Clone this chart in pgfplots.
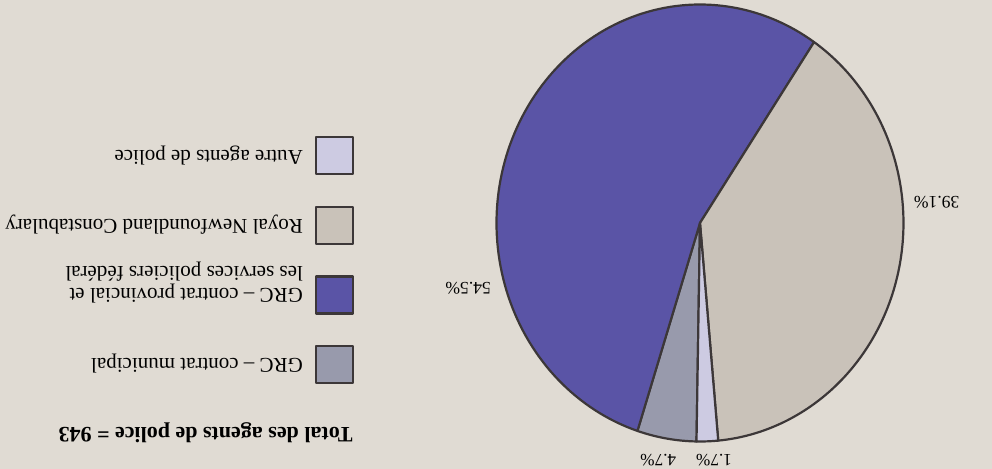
\documentclass[border=0pt]{standalone}
\usepackage{fontspec}
\setmainfont{Liberation Serif}
\usepackage{graphicx}
\usepackage{pgfplots}
\pgfplotsset{compat=1.18}
\definecolor{bg}{RGB}{224,219,211}
\definecolor{cblue}{RGB}{90,84,166}
\definecolor{cbeige}{RGB}{201,194,185}
\definecolor{clav}{RGB}{205,203,226}
\definecolor{cgray}{RGB}{152,154,172}
\definecolor{cline}{RGB}{60,55,56}
\begin{document}
\rotatebox{180}{%
\begin{tikzpicture}
\useasboundingbox (0,0) rectangle (496pt,234.5pt);
\fill[bg] (0,0) rectangle (496pt,234.5pt);
\begin{axis}[
  at={(146pt,111.5pt)}, anchor=center,
  scale only axis, width=203.5pt, height=218.5pt,
  xmin=-1, xmax=1, ymin=-1, ymax=1,
  hide axis, clip=false,
  legend style={at={(axis description cs:1.350,0.869)}, anchor=north west,
    draw=none, fill=none, inner sep=0pt, outer sep=0pt,
    row sep=15.2pt, column sep=4pt,
    font=\fontsize{10.5}{12}\selectfont, cells={anchor=west}},
  legend cell align=left,
  legend image code/.code={\draw[#1] (0pt,-9.25pt) rectangle (18.5pt,9.25pt);},
  every axis plot/.append style={draw=cline, line width=1.1pt, line join=round, samples=121},
]
% percentages: GRC municipal 4.7, GRC provincial/federal 54.5, RNC 39.1, autre 1.7
\addplot[fill=cgray, domain=72.1:89.02, variable=\t] ({cos(\t)},{sin(\t)}) -- (axis cs:0,0) -- cycle;
\addlegendentry{GRC – contrat municipal}
\addplot[fill=cblue, domain=-124.1:72.1, variable=\t] ({cos(\t)},{sin(\t)}) -- (axis cs:0,0) -- cycle;
\addlegendentry{\raisebox{0pt}[\height][0pt]{\begin{tabular}[t]{@{}l@{}}GRC – contrat provincial et\\[-1pt]les services policiers fédéral\end{tabular}}}
\addplot[fill=cbeige, domain=95.14:235.9, variable=\t] ({cos(\t)},{sin(\t)}) -- (axis cs:0,0) -- cycle;
\addlegendentry{Royal Newfoundland Constabulary}
\addplot[fill=clav, domain=89.02:95.14, variable=\t] ({cos(\t)},{sin(\t)}) -- (axis cs:0,0) -- cycle;
\addlegendentry{Autre agents de police}
\node[font=\fontsize{8.8}{10}\selectfont] at (axis cs:1.139,0.299) {54.5\%};
\node[font=\fontsize{8.8}{10}\selectfont] at (axis cs:-1.163,-0.097) {39.1\%};
\node[font=\fontsize{8.6}{10}\selectfont, inner sep=1pt] at (axis cs:-0.069,1.083) {1.7\%};
\node[font=\fontsize{8.6}{10}\selectfont, inner sep=1pt] at (axis cs:0.205,1.083) {4.7\%};
\end{axis}
\node[anchor=west, inner sep=0pt, font=\bfseries\fontsize{11}{13}\selectfont] at (319.5pt,216.5pt) {Total des agents de police = 943};
\end{tikzpicture}}
\end{document}
